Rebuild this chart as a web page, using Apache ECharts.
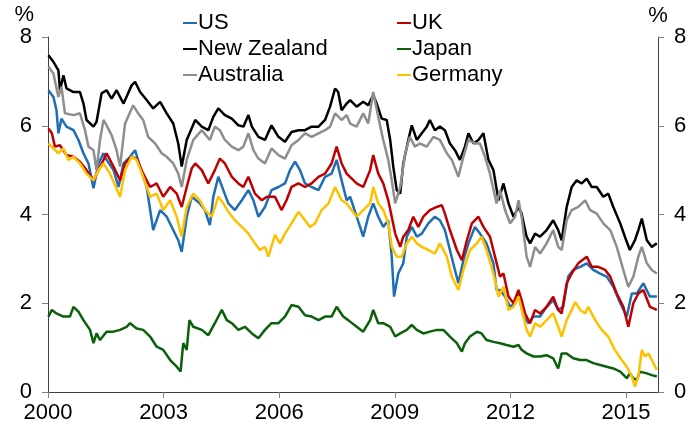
<!DOCTYPE html>
<html>
<head>
<meta charset="utf-8">
<script src="https://cdn.jsdelivr.net/npm/echarts@6/dist/echarts.min.js"></script>
<style>
  html, body { margin: 0; padding: 0; background: #fff; }
  #chart { width: 693px; height: 428px; }
</style>
</head>
<body>
<div id="chart"></div>
<script>
// 10-year government bond yields, % ([decimal year, yield])
var us = [
  [2000.01, 6.80], [2000.14, 6.65], [2000.22, 6.35], [2000.27, 5.83], [2000.35, 6.16], [2000.48, 5.98],
  [2000.66, 5.90], [2000.79, 5.68], [2000.92, 5.38], [2001.05, 5.15], [2001.18, 4.59], [2001.31, 5.15],
  [2001.44, 5.38], [2001.52, 5.23], [2001.70, 5.00], [2001.83, 4.62], [2001.96, 5.15], [2002.13, 5.30],
  [2002.26, 5.45], [2002.39, 5.08], [2002.56, 4.62], [2002.73, 3.65], [2002.91, 4.10], [2003.08, 3.95],
  [2003.25, 3.65], [2003.38, 3.42], [2003.47, 3.16], [2003.60, 3.95], [2003.73, 4.40], [2003.94, 4.25],
  [2004.07, 4.10], [2004.20, 3.76], [2004.29, 4.40], [2004.42, 4.85], [2004.55, 4.55], [2004.68, 4.25],
  [2004.85, 4.10], [2005.03, 4.32], [2005.20, 4.55], [2005.33, 4.32], [2005.46, 3.95], [2005.63, 4.17],
  [2005.80, 4.55], [2005.98, 4.62], [2006.15, 4.70], [2006.28, 5.00], [2006.41, 5.19], [2006.54, 5.00],
  [2006.67, 4.70], [2006.84, 4.62], [2007.02, 4.55], [2007.19, 4.85], [2007.36, 4.92], [2007.49, 5.23],
  [2007.62, 4.77], [2007.75, 4.32], [2007.84, 4.40], [2008.01, 3.95], [2008.18, 3.50], [2008.31, 3.95],
  [2008.44, 4.25], [2008.57, 3.95], [2008.70, 3.72], [2008.83, 3.87], [2008.92, 3.05], [2008.98, 2.15],
  [2009.09, 2.67], [2009.22, 2.90], [2009.31, 3.50], [2009.44, 3.72], [2009.57, 3.50], [2009.70, 3.57],
  [2009.87, 3.80], [2010.04, 3.95], [2010.17, 3.87], [2010.30, 3.65], [2010.43, 3.20], [2010.56, 2.75],
  [2010.65, 2.45], [2010.78, 2.97], [2010.91, 3.35], [2011.08, 3.72], [2011.21, 3.57], [2011.38, 3.35],
  [2011.56, 2.90], [2011.64, 2.30], [2011.73, 2.30], [2011.86, 2.15], [2011.99, 1.92], [2012.12, 2.00],
  [2012.21, 2.22], [2012.34, 1.70], [2012.47, 1.55], [2012.60, 1.70], [2012.77, 1.70], [2012.94, 1.92],
  [2013.11, 2.07], [2013.24, 1.85], [2013.37, 1.92], [2013.50, 2.60], [2013.63, 2.75], [2013.81, 2.82],
  [2013.98, 2.90], [2014.15, 2.75], [2014.33, 2.67], [2014.50, 2.60], [2014.67, 2.37], [2014.85, 2.00],
  [2015.02, 1.70], [2015.15, 2.22], [2015.28, 2.22], [2015.45, 2.45], [2015.62, 2.15], [2015.80, 2.15]
];

var uk = [
  [2000.01, 5.94], [2000.10, 5.83], [2000.18, 5.53], [2000.31, 5.56], [2000.48, 5.34], [2000.66, 5.30],
  [2000.83, 5.19], [2001.00, 5.00], [2001.18, 4.77], [2001.31, 5.00], [2001.44, 5.23], [2001.52, 5.38],
  [2001.70, 5.08], [2001.87, 4.77], [2002.00, 5.15], [2002.17, 5.30], [2002.30, 5.26], [2002.47, 4.92],
  [2002.65, 4.62], [2002.82, 4.70], [2002.99, 4.40], [2003.17, 4.62], [2003.34, 4.47], [2003.47, 4.17],
  [2003.60, 4.62], [2003.73, 5.04], [2003.82, 5.15], [2003.99, 5.00], [2004.16, 4.70], [2004.33, 5.00],
  [2004.46, 5.26], [2004.59, 5.15], [2004.77, 4.85], [2004.94, 4.70], [2005.07, 4.62], [2005.20, 4.85],
  [2005.37, 4.47], [2005.55, 4.32], [2005.68, 4.40], [2005.89, 4.40], [2006.06, 4.10], [2006.19, 4.32],
  [2006.32, 4.62], [2006.50, 4.70], [2006.67, 4.62], [2006.84, 4.70], [2007.02, 4.85], [2007.19, 4.92],
  [2007.36, 5.15], [2007.49, 5.53], [2007.62, 5.15], [2007.75, 4.92], [2008.01, 4.70], [2008.18, 4.62],
  [2008.36, 5.00], [2008.44, 5.34], [2008.57, 4.92], [2008.70, 4.70], [2008.83, 4.32], [2008.92, 3.95],
  [2009.01, 3.57], [2009.14, 3.27], [2009.22, 3.50], [2009.35, 3.65], [2009.48, 3.95], [2009.61, 3.72],
  [2009.74, 3.95], [2009.91, 4.10], [2010.09, 4.17], [2010.22, 4.21], [2010.30, 4.02], [2010.43, 3.65],
  [2010.61, 3.20], [2010.74, 2.97], [2010.87, 3.42], [2011.00, 3.80], [2011.17, 3.95], [2011.30, 3.72],
  [2011.47, 3.50], [2011.60, 3.05], [2011.73, 2.60], [2011.82, 2.67], [2011.95, 2.15], [2012.08, 2.00],
  [2012.21, 2.30], [2012.29, 2.07], [2012.38, 1.77], [2012.51, 1.55], [2012.64, 1.85], [2012.77, 1.77],
  [2012.94, 1.92], [2013.11, 2.15], [2013.24, 1.85], [2013.33, 1.77], [2013.46, 2.45], [2013.59, 2.67],
  [2013.76, 2.90], [2013.98, 3.05], [2014.11, 2.82], [2014.28, 2.82], [2014.46, 2.75], [2014.59, 2.60],
  [2014.76, 2.22], [2014.93, 1.92], [2015.06, 1.47], [2015.19, 2.00], [2015.32, 2.22], [2015.45, 2.30],
  [2015.62, 1.92], [2015.80, 1.85]
];

var newZealand = [
  [2000.01, 7.59], [2000.14, 7.44], [2000.27, 7.25], [2000.31, 6.80], [2000.40, 7.14], [2000.48, 6.84],
  [2000.66, 6.76], [2000.83, 6.76], [2000.92, 6.50], [2001.00, 6.13], [2001.18, 5.98], [2001.26, 6.09],
  [2001.39, 6.73], [2001.52, 6.80], [2001.65, 6.61], [2001.78, 6.80], [2001.96, 6.50], [2002.17, 6.91],
  [2002.26, 6.99], [2002.39, 6.76], [2002.56, 6.58], [2002.73, 6.39], [2002.91, 6.54], [2003.08, 6.28],
  [2003.25, 6.05], [2003.38, 5.60], [2003.47, 5.08], [2003.60, 5.68], [2003.82, 6.13], [2003.99, 5.98],
  [2004.16, 5.90], [2004.29, 6.20], [2004.42, 6.39], [2004.59, 6.24], [2004.77, 6.16], [2004.94, 6.01],
  [2005.07, 5.98], [2005.20, 6.24], [2005.29, 5.98], [2005.46, 5.75], [2005.63, 5.68], [2005.80, 6.01],
  [2005.98, 5.75], [2006.15, 5.64], [2006.32, 5.86], [2006.50, 5.90], [2006.67, 5.90], [2006.84, 5.98],
  [2007.02, 5.98], [2007.19, 6.13], [2007.32, 6.43], [2007.45, 6.84], [2007.53, 6.76], [2007.62, 6.35],
  [2007.75, 6.50], [2007.84, 6.58], [2008.01, 6.43], [2008.18, 6.54], [2008.31, 6.46], [2008.44, 6.69],
  [2008.53, 6.50], [2008.66, 6.16], [2008.79, 6.13], [2008.88, 5.68], [2008.96, 5.08], [2009.05, 4.55],
  [2009.14, 4.47], [2009.22, 5.15], [2009.35, 5.68], [2009.44, 6.01], [2009.57, 5.68], [2009.70, 5.83],
  [2009.83, 5.98], [2009.91, 6.13], [2010.04, 5.90], [2010.17, 5.98], [2010.30, 5.90], [2010.43, 5.60],
  [2010.56, 5.45], [2010.69, 5.23], [2010.82, 5.53], [2010.91, 5.83], [2011.04, 5.60], [2011.17, 5.68],
  [2011.30, 5.83], [2011.43, 5.23], [2011.56, 5.00], [2011.69, 4.32], [2011.82, 4.70], [2011.95, 4.25],
  [2012.08, 3.95], [2012.21, 4.17], [2012.29, 4.02], [2012.42, 3.50], [2012.51, 3.35], [2012.64, 3.57],
  [2012.77, 3.50], [2012.94, 3.65], [2013.11, 3.87], [2013.24, 3.65], [2013.33, 3.42], [2013.46, 4.17],
  [2013.59, 4.62], [2013.72, 4.77], [2013.85, 4.70], [2013.98, 4.81], [2014.11, 4.62], [2014.24, 4.62],
  [2014.41, 4.40], [2014.54, 4.47], [2014.67, 4.17], [2014.85, 3.80], [2014.97, 3.50], [2015.10, 3.20],
  [2015.23, 3.42], [2015.32, 3.65], [2015.41, 3.91], [2015.54, 3.42], [2015.67, 3.27], [2015.80, 3.35]
];

var japan = [
  [2000.01, 1.70], [2000.10, 1.85], [2000.22, 1.77], [2000.40, 1.70], [2000.57, 1.70], [2000.66, 1.92],
  [2000.79, 1.81], [2000.92, 1.62], [2001.09, 1.40], [2001.18, 1.10], [2001.26, 1.32], [2001.35, 1.17],
  [2001.52, 1.36], [2001.70, 1.36], [2001.87, 1.40], [2002.04, 1.47], [2002.13, 1.55], [2002.30, 1.43],
  [2002.47, 1.40], [2002.65, 1.25], [2002.82, 1.02], [2002.99, 0.95], [2003.17, 0.72], [2003.34, 0.57],
  [2003.44, 0.46], [2003.51, 1.10], [2003.60, 0.95], [2003.67, 1.62], [2003.77, 1.47], [2003.99, 1.40],
  [2004.16, 1.28], [2004.33, 1.55], [2004.51, 1.85], [2004.64, 1.62], [2004.77, 1.55], [2004.94, 1.40],
  [2005.11, 1.47], [2005.29, 1.32], [2005.46, 1.21], [2005.63, 1.40], [2005.80, 1.55], [2005.98, 1.55],
  [2006.15, 1.70], [2006.32, 1.96], [2006.50, 1.92], [2006.67, 1.73], [2006.84, 1.70], [2007.02, 1.62],
  [2007.19, 1.70], [2007.36, 1.70], [2007.49, 1.92], [2007.66, 1.70], [2007.79, 1.62], [2008.01, 1.47],
  [2008.18, 1.36], [2008.36, 1.62], [2008.44, 1.85], [2008.57, 1.55], [2008.70, 1.55], [2008.88, 1.47],
  [2009.01, 1.25], [2009.14, 1.32], [2009.31, 1.40], [2009.44, 1.51], [2009.57, 1.40], [2009.74, 1.32],
  [2009.91, 1.36], [2010.09, 1.40], [2010.26, 1.40], [2010.43, 1.25], [2010.61, 1.10], [2010.74, 0.91],
  [2010.82, 1.10], [2010.95, 1.25], [2011.13, 1.36], [2011.25, 1.32], [2011.38, 1.17], [2011.56, 1.13],
  [2011.73, 1.10], [2011.90, 1.06], [2012.08, 1.02], [2012.21, 1.06], [2012.29, 0.95], [2012.42, 0.87],
  [2012.60, 0.80], [2012.77, 0.80], [2012.94, 0.83], [2013.11, 0.76], [2013.24, 0.53], [2013.33, 0.87],
  [2013.46, 0.87], [2013.63, 0.76], [2013.81, 0.72], [2013.98, 0.72], [2014.15, 0.65], [2014.33, 0.61],
  [2014.50, 0.57], [2014.67, 0.53], [2014.85, 0.46], [2015.02, 0.31], [2015.10, 0.42], [2015.19, 0.31],
  [2015.28, 0.27], [2015.36, 0.46], [2015.54, 0.42], [2015.67, 0.38], [2015.80, 0.35]
];

var australia = [
  [2000.01, 7.33], [2000.14, 7.18], [2000.27, 6.65], [2000.35, 6.88], [2000.44, 6.28], [2000.66, 6.24],
  [2000.83, 6.28], [2000.96, 5.90], [2001.05, 5.53], [2001.18, 5.45], [2001.26, 5.00], [2001.35, 5.68],
  [2001.44, 6.13], [2001.52, 6.01], [2001.65, 5.79], [2001.78, 5.45], [2001.87, 5.08], [2002.00, 6.05],
  [2002.21, 6.46], [2002.34, 6.28], [2002.47, 6.13], [2002.60, 5.75], [2002.78, 5.60], [2002.95, 5.38],
  [2003.08, 5.30], [2003.25, 5.15], [2003.38, 4.92], [2003.47, 4.62], [2003.60, 5.23], [2003.77, 5.68],
  [2003.99, 5.90], [2004.20, 5.68], [2004.33, 5.98], [2004.46, 5.90], [2004.59, 5.68], [2004.77, 5.53],
  [2004.94, 5.45], [2005.07, 5.53], [2005.20, 5.83], [2005.33, 5.45], [2005.46, 5.26], [2005.63, 5.15],
  [2005.80, 5.49], [2005.98, 5.34], [2006.15, 5.26], [2006.32, 5.56], [2006.50, 5.68], [2006.67, 5.83],
  [2006.84, 5.75], [2007.02, 5.83], [2007.19, 5.90], [2007.32, 5.98], [2007.45, 6.28], [2007.62, 6.13],
  [2007.75, 6.24], [2007.84, 6.05], [2008.01, 5.98], [2008.18, 6.28], [2008.31, 6.05], [2008.44, 6.76],
  [2008.57, 6.20], [2008.70, 5.68], [2008.83, 5.23], [2008.92, 4.77], [2009.01, 4.25], [2009.14, 4.62],
  [2009.27, 5.38], [2009.39, 5.75], [2009.52, 5.53], [2009.65, 5.60], [2009.83, 5.53], [2010.00, 5.75],
  [2010.17, 5.68], [2010.35, 5.38], [2010.48, 5.23], [2010.65, 4.85], [2010.78, 5.30], [2010.91, 5.68],
  [2011.08, 5.60], [2011.21, 5.60], [2011.34, 5.30], [2011.47, 4.92], [2011.64, 4.25], [2011.73, 4.55],
  [2011.86, 4.10], [2011.99, 3.80], [2012.12, 3.95], [2012.21, 4.32], [2012.29, 3.95], [2012.42, 3.05],
  [2012.51, 2.82], [2012.64, 3.27], [2012.77, 3.12], [2012.94, 3.35], [2013.11, 3.65], [2013.24, 3.27],
  [2013.33, 3.20], [2013.46, 3.87], [2013.59, 4.10], [2013.76, 4.17], [2013.94, 4.32], [2014.07, 4.10],
  [2014.24, 4.02], [2014.41, 3.80], [2014.59, 3.65], [2014.76, 3.27], [2014.93, 2.75], [2015.06, 2.37],
  [2015.19, 2.60], [2015.32, 3.05], [2015.41, 3.27], [2015.54, 2.90], [2015.67, 2.75], [2015.80, 2.67]
];

var germany = [
  [2000.01, 5.60], [2000.14, 5.49], [2000.27, 5.38], [2000.40, 5.49], [2000.53, 5.23], [2000.66, 5.30],
  [2000.83, 5.15], [2001.00, 4.92], [2001.18, 4.77], [2001.31, 5.00], [2001.44, 5.15], [2001.61, 4.92],
  [2001.87, 4.40], [2002.00, 5.00], [2002.17, 5.30], [2002.30, 5.23], [2002.47, 4.85], [2002.65, 4.40],
  [2002.82, 4.47], [2002.99, 4.10], [2003.17, 4.32], [2003.34, 3.95], [2003.47, 3.50], [2003.60, 4.17],
  [2003.77, 4.47], [2003.94, 4.32], [2004.07, 4.10], [2004.25, 3.95], [2004.42, 4.40], [2004.55, 4.25],
  [2004.68, 4.06], [2004.85, 3.87], [2005.03, 3.72], [2005.20, 3.57], [2005.37, 3.35], [2005.50, 3.20],
  [2005.63, 3.27], [2005.72, 3.05], [2005.89, 3.54], [2006.02, 3.35], [2006.15, 3.57], [2006.32, 3.80],
  [2006.50, 4.06], [2006.67, 3.87], [2006.80, 3.72], [2006.93, 3.80], [2007.10, 4.10], [2007.28, 4.25],
  [2007.45, 4.62], [2007.62, 4.32], [2007.75, 4.25], [2008.01, 3.95], [2008.18, 4.10], [2008.36, 4.25],
  [2008.44, 4.62], [2008.57, 4.25], [2008.70, 4.10], [2008.83, 3.80], [2008.92, 3.27], [2009.05, 3.05],
  [2009.18, 3.05], [2009.31, 3.35], [2009.44, 3.50], [2009.57, 3.35], [2009.70, 3.27], [2009.87, 3.20],
  [2010.04, 3.12], [2010.17, 3.35], [2010.35, 3.05], [2010.48, 2.60], [2010.65, 2.30], [2010.78, 2.75],
  [2010.95, 3.20], [2011.13, 3.35], [2011.25, 3.50], [2011.38, 3.20], [2011.56, 2.67], [2011.69, 2.15],
  [2011.82, 2.37], [2011.95, 1.85], [2012.08, 1.92], [2012.21, 2.15], [2012.34, 1.70], [2012.42, 1.40],
  [2012.51, 1.25], [2012.64, 1.55], [2012.77, 1.47], [2012.94, 1.62], [2013.11, 1.77], [2013.24, 1.47],
  [2013.33, 1.25], [2013.46, 1.62], [2013.59, 1.85], [2013.68, 2.03], [2013.81, 1.85], [2013.94, 1.77],
  [2014.02, 1.92], [2014.20, 1.62], [2014.37, 1.40], [2014.54, 1.25], [2014.71, 0.95], [2014.89, 0.72],
  [2015.02, 0.57], [2015.15, 0.35], [2015.23, 0.12], [2015.32, 0.35], [2015.41, 0.95], [2015.49, 0.80],
  [2015.58, 0.87], [2015.67, 0.72], [2015.80, 0.50]
];

var names = ['US', 'UK', 'New Zealand', 'Japan', 'Australia', 'Germany'];
var colors = ['#1f6db4', '#c00000', '#000000', '#0b610b', '#8e8e8e', '#ffc000'];
var seriesData = [us, uk, newZealand, japan, australia, germany];

var font = 'Liberation Sans, Arial, sans-serif';

function yAxisCfg(pos) {
  return {
    type: 'value',
    position: pos,
    min: 0,
    max: 8,
    interval: 2,
    name: '%',
    nameLocation: 'end',
    nameGap: 10,
    nameTextStyle: {
      color: '#000', fontSize: 22, fontFamily: font,
      align: pos === 'left' ? 'right' : 'center',
      padding: pos === 'left' ? [0, 14, 0, 0] : [0, 0, 0, 0]
    },
    axisLine: { show: true, lineStyle: { color: '#404040', width: 1 } },
    axisTick: { show: true, length: 6, lineStyle: { color: '#808080' } },
    axisLabel: { color: '#000', fontSize: 22, fontFamily: font, margin: 16 },
    splitLine: { show: false }
  };
}

var legendText = { color: '#000', fontSize: 22, fontFamily: font, padding: [0, 0, 0, -4] };

var option = {
  animation: false,
  backgroundColor: '#fff',
  color: colors,
  grid: { left: 48, right: 35, top: 37, bottom: 36 },
  legend: [
    {
      data: ['US', 'New Zealand', 'Australia'],
      orient: 'vertical', left: 178, top: 7, itemGap: 4,
      icon: 'rect', itemWidth: 14, itemHeight: 2,
      textStyle: legendText
    },
    {
      data: ['UK', 'Japan', 'Germany'],
      orient: 'vertical', left: 392, top: 7, itemGap: 4,
      icon: 'rect', itemWidth: 14, itemHeight: 2,
      textStyle: legendText
    }
  ],
  xAxis: {
    type: 'value',
    min: 2000,
    max: 2015.83,
    interval: 3,
    axisLine: { show: true, onZero: false, lineStyle: { color: '#404040', width: 1 } },
    axisTick: { show: true, length: 6, lineStyle: { color: '#808080' } },
    axisLabel: {
      color: '#000', fontSize: 22, fontFamily: font, margin: 10,
      showMaxLabel: false,
      formatter: function (v) { return String(Math.round(v)); }
    },
    splitLine: { show: false }
  },
  yAxis: [yAxisCfg('left'), yAxisCfg('right')],
  series: names.map(function (n, i) {
    return {
      name: n,
      type: 'line',
      yAxisIndex: 0,
      data: seriesData[i],
      showSymbol: false,
      symbol: 'none',
      lineStyle: { width: 2.5, color: colors[i] },
      itemStyle: { color: colors[i] }
    };
  })
};

var chart = echarts.init(document.getElementById('chart'));
chart.setOption(option);
</script>
</body>
</html>
